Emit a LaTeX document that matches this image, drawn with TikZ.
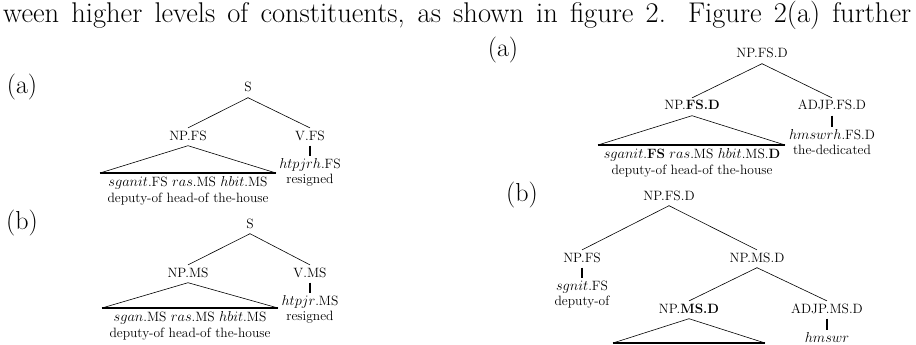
\documentclass[tikz,border=0pt]{standalone}
\usepackage{amsmath,amssymb}
\usetikzlibrary{positioning}
\newcommand{\lblfont}{\fontsize{26}{30}\selectfont}
\newcommand{\topfont}{\fontsize{28.5}{32}\selectfont}
\newcommand{\treefont}{\fontsize{13.5}{15.5}\selectfont}

\begin{document}
\begin{tikzpicture}[x=1pt,y=-1pt,
  cat/.style={font=\treefont,inner sep=2.5pt,text height=9.4pt,text depth=3pt,anchor=base},
  leaf/.style={font=\treefont,inner sep=2.5pt,align=center},
  br/.style={line width=0.6pt},
  unary/.style={line width=1.5pt},
  tribase/.style={line width=2.8pt}]
\useasboundingbox (0,0) rectangle (916,345);
\node (txt) [font=\topfont,anchor=base west,inner sep=0pt] at (3,23) {\makebox[908pt][s]{ween higher levels of constituents, as shown in figure 2. Figure 2(a) further}};
% left (a)
\node (la) [font=\lblfont] at (22,87) {(a)};
\node (sa) [cat] at (248,92) {S}; \node (npa) [cat] at (188,140) {NP.FS}; \node (va) [cat] at (310,140) {V.FS};
\draw[br] (sa.south) -- (npa.north); \draw[br] (sa.south) -- (va.north);
\coordinate (ta1) at (100,173); \coordinate (ta2) at (276,173);
\draw[br] (ta1) -- (npa.south) -- (ta2); \draw[tribase] (ta1) -- (ta2);
\node (wa) [leaf,anchor=north] at (188,174) {$sganit$.FS $ras$.MS $hbit$.MS\\deputy-of head-of the-house};
\node (ha) [leaf,below=10pt of va] {$htpjrh$.FS\\resigned};
\draw[unary] (va) -- (ha);
% left (b)
\node (lb) [font=\lblfont] at (22,223) {(b)};
\node (sb) [cat] at (250,228) {S}; \node (npb) [cat] at (188,277) {NP.MS}; \node (vb) [cat] at (310,277) {V.MS};
\draw[br] (sb.south) -- (npb.north); \draw[br] (sb.south) -- (vb.north);
\coordinate (tb1) at (102,308); \coordinate (tb2) at (278,308);
\draw[br] (tb1) -- (npb.south) -- (tb2); \draw[tribase] (tb1) -- (tb2);
\node (wb) [leaf,anchor=north] at (190,309) {$sgan$.MS $ras$.MS $hbit$.MS\\deputy-of head-of the-house};
\node (hb) [leaf,below=10pt of vb] {$htpjr$.MS\\resigned};
\draw[unary] (vb) -- (hb);
% right (a)
\node (ra) [font=\lblfont] at (503,50) {(a)};
\node (rt) [cat] at (762,58) {NP.FS.D};
\node (rnp) [cat] at (692,110) {NP.\textbf{FS.D}}; \node (radj) [cat] at (832,110) {ADJP.FS.D};
\draw[br] (rt.south) -- (rnp.north); \draw[br] (rt.south) -- (radj.north);
\coordinate (tc1) at (598,145); \coordinate (tc2) at (785,145);
\draw[br] (tc1) -- (rnp.south) -- (tc2); \draw[tribase] (tc1) -- (tc2);
\node (wc) [leaf,anchor=north] at (692,146) {$sganit$.\textbf{FS} $ras$.MS $hbit$.MS.\textbf{D}\\deputy-of head-of the-house};
\node (hc) [leaf,below=11pt of radj] {$hmswrh$.FS.D\\the-dedicated};
\draw[unary] (radj) -- (hc);
% right (b)
\node (rb) [font=\lblfont] at (522,195) {(b)};
\node (rs) [cat] at (669,200) {NP.FS.D};
\node (rfs) [cat] at (582,262) {NP.FS}; \node (rms) [cat] at (757,262) {NP.MS.D};
\node (rmsb) [cat] at (689,313) {NP.\textbf{MS.D}}; \node (radjb) [cat] at (827,313) {ADJP.MS.D};
\draw[br] (rs.south) -- (rfs.north); \draw[br] (rs.south) -- (rms.north);
\draw[br] (rms.south) -- (rmsb.north); \draw[br] (rms.south) -- (radjb.north);
\node (hd) [leaf,below=10.5pt of rfs] {$sgnit$.FS\\deputy-of};
\draw[unary] (rfs) -- (hd);
\node (he) [leaf,below=11pt of radjb] {$hmswr$};
\draw[unary] (radjb) -- (he);
\coordinate (td1) at (613,343); \coordinate (td2) at (765,343);
\draw[br] (td1) -- (rmsb.south) -- (td2); \draw[tribase] (td1) -- (td2);
\end{tikzpicture}
\end{document}
